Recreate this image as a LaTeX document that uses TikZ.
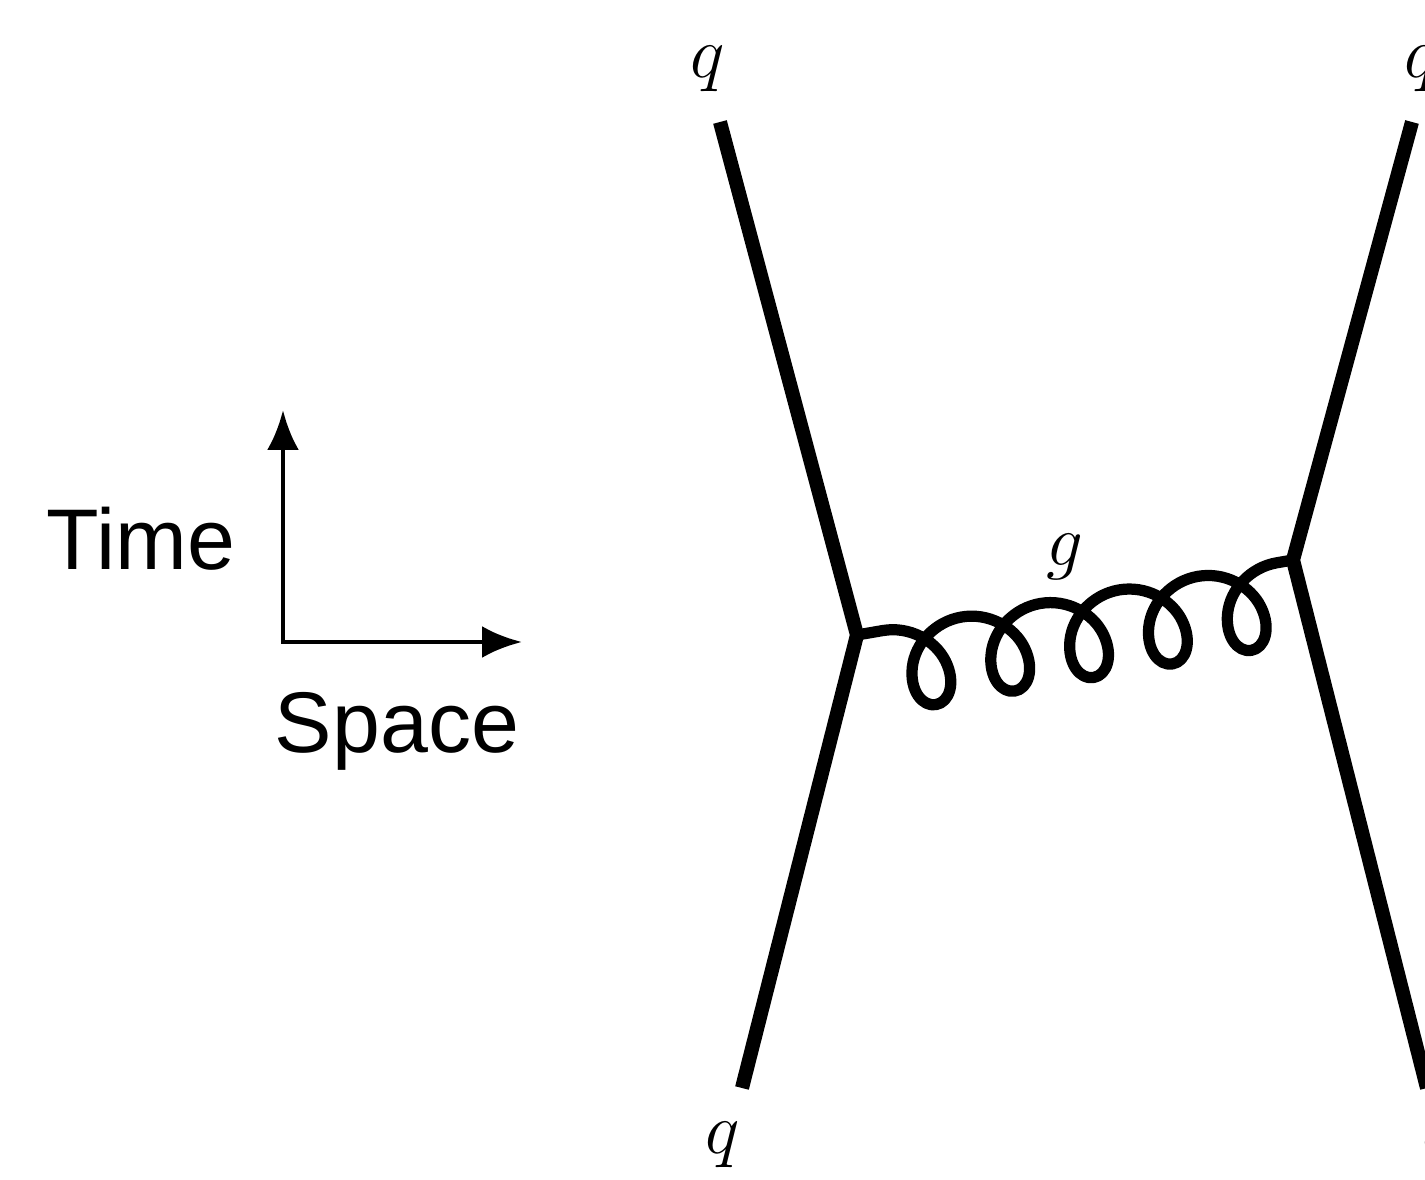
\documentclass[tikz,border=0pt]{standalone}
\usepackage{fontspec}
\setsansfont{Liberation Sans}
\usetikzlibrary{arrows.meta,decorations}

% gluon loops: every period starts and ends on top of a loop
\newcommand\gluonpt[3]{\pgfpoint
  {\pgfdecorationsegmentaspect*\pgfdecorationsegmentamplitude*(#1-1)+0.0833333*\pgfdecorationsegmentlength*(#3-3)}
  {\pgfdecorationsegmentamplitude*(#2-1)}}
\pgfdeclaredecoration{gluon loops}{loop}{
  \state{loop}[switch if less than=\pgfdecorationsegmentlength to final,
               width=\pgfdecorationsegmentlength]
  {
    \pgfpathcurveto{\gluonpt{1.555}{1}{4}}{\gluonpt{2}{0.555}{5}}{\gluonpt{2}{0}{6}}
    \pgfpathcurveto{\gluonpt{2}{-0.555}{7}}{\gluonpt{1.555}{-1}{8}}{\gluonpt{1}{-1}{9}}
    \pgfpathcurveto{\gluonpt{0.445}{-1}{10}}{\gluonpt{0}{-0.555}{11}}{\gluonpt{0}{0}{12}}
    \pgfpathcurveto{\gluonpt{0}{0.555}{13}}{\gluonpt{0.445}{1}{14}}{\gluonpt{1}{1}{15}}
  }
  \state{final}
  {
    \pgfpathlineto{\pgfpointdecoratedpathlast}
  }
}

\begin{document}
\begin{tikzpicture}[
    quark/.style={line width=4pt},
    gluon/.style={line width=3.2pt, line join=round, decorate,
      decoration={gluon loops, amplitude=0.41cm, segment length=0.8cm,
        aspect=0.9, pre=lineto, pre length=0.26cm}},
    axis/.style={line width=1.4pt,
      {Latex[length=0.4cm,width=0.32cm]}-{Latex[length=0.4cm,width=0.32cm]}},
    plabel/.style={inner sep=0pt, font=\fontsize{21}{25}\selectfont},
    alabel/.style={inner sep=0pt, anchor=base, font=\sffamily\fontsize{24.5}{29}\selectfont}]
    \useasboundingbox (0,0) rectangle (14.25,11.8);
    \clip (0,0) rectangle (14.25,11.8);

    % Space-time axes
    \coordinate (origin) at (2.83,5.38);
    \coordinate (tEnd) at (2.83,7.70);
    \coordinate (xEnd) at (5.22,5.38);
    \draw[axis] (tEnd) -- (origin) -- (xEnd);
    \node[alabel] (time) at (1.41,6.10) {Time};
    \node[alabel] (space) at (3.97,4.27) {Space};

    % Vertices and quark ends
    \coordinate (v1) at (8.57,5.45);
    \coordinate (v2) at (12.93,6.20);
    \coordinate (q1in) at (7.42,0.92);
    \coordinate (q1out) at (7.20,10.58);
    \coordinate (q2in) at (14.27,0.92);
    \coordinate (q2out) at (14.12,10.58);

    % Labels
    \node[plabel] (q1outlbl) at (7.08,11.11) {$q$};
    \node[plabel] (q1inlbl) at (7.23,0.35) {$q$};
    \node[plabel] (q2outlbl) at (14.22,11.11) {$q$};
    \node[plabel] (q2inlbl) at (14.40,0.35) {$q$};
    \node[plabel] (glbl) at (10.65,6.23) {$g$};

    % Quark lines
    \draw[quark] (q1in) -- (v1) -- (q1out);
    \draw[quark] (q2in) -- (v2) -- (q2out);

    % Gluon exchange
    \draw[gluon] (v1) -- (v2);
\end{tikzpicture}
\end{document}
